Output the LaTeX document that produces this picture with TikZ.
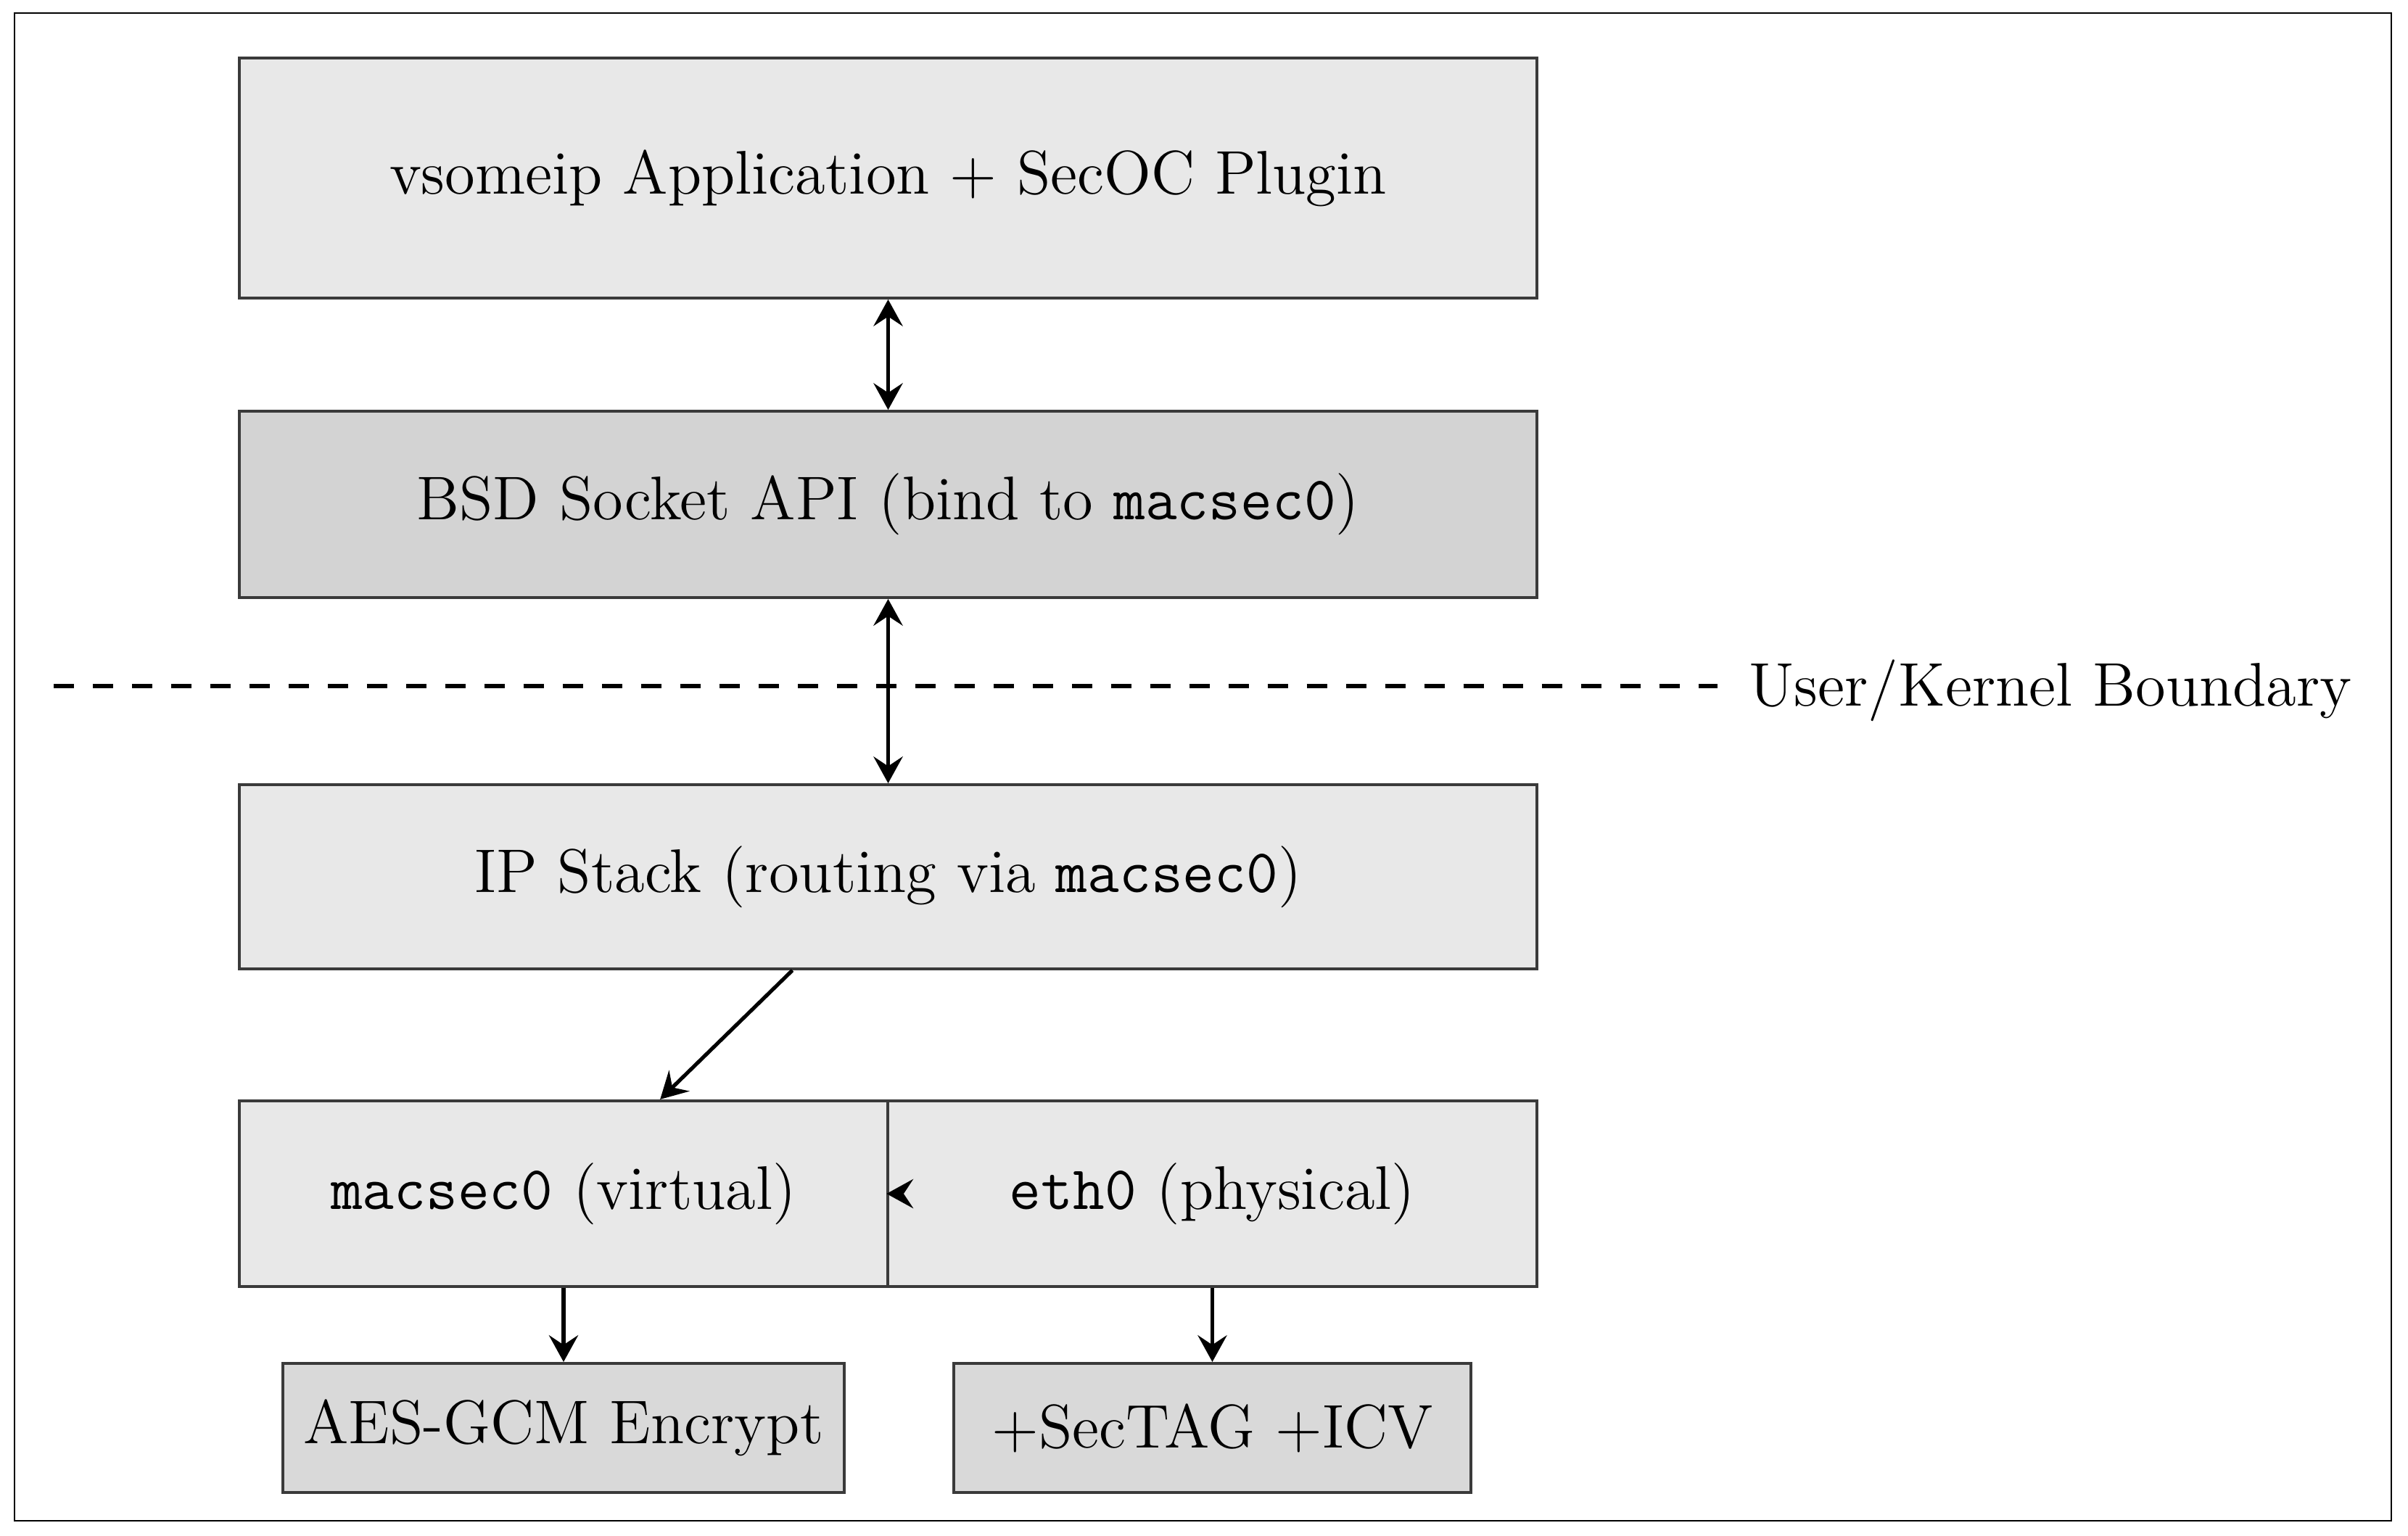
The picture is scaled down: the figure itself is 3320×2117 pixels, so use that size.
\documentclass[tikz,border=0pt]{standalone}
\usepackage{fontspec}
\usetikzlibrary{arrows.meta}
\definecolor{fillA}{HTML}{E8E8E8}
\definecolor{fillB}{HTML}{D3D3D3}
\definecolor{fillC}{HTML}{D9D9D9}
\definecolor{edge}{HTML}{3A3A3A}
\tikzset{
  box/.style={draw=edge, line width=0.7pt, rectangle, inner sep=0pt, align=center,
    font=\fontsize{14.8}{17.5}\selectfont},
  arr/.style={line width=0.9pt, -{Stealth[length=6.4pt,width=7pt,inset=2.3pt]}},
  darr/.style={line width=0.9pt, {Stealth[length=6.4pt,width=7pt,inset=2.3pt]}-{Stealth[length=6.4pt,width=7pt,inset=2.3pt]}},
}
\begin{document}
\begin{tikzpicture}[x=0.1741pt, y=-0.1741pt]
\useasboundingbox (0,0) rectangle (3320,2117);
\draw[line width=0.5pt] (20,18) rectangle (3297,2097);

\node[box, fill=fillA, minimum width=311.5pt, minimum height=57.6pt] (app) at (1224.5,245.5)
  {vsomeip Application + SecOC Plugin};
\node[box, fill=fillB, minimum width=311.5pt, minimum height=44.7pt] (bsd) at (1224.5,695.5)
  {BSD Socket API (bind to \texttt{macsec0})};
\node[box, fill=fillA, minimum width=311.5pt, minimum height=44.2pt] (ip) at (1224.5,1209)
  {IP Stack (routing via \texttt{macsec0})};
\node[box, fill=fillA, minimum width=155.7pt, minimum height=44.6pt] (mac) at (777,1646)
  {\texttt{macsec0} (virtual)};
\node[box, fill=fillA, minimum width=155.7pt, minimum height=44.6pt] (eth) at (1671.5,1646)
  {\texttt{eth0} (physical)};
\node[box, fill=fillC, minimum width=134.8pt, minimum height=31pt] (aes) at (777,1969)
  {AES-GCM Encrypt};
\node[box, fill=fillC, minimum width=124.1pt, minimum height=31pt] (tag) at (1671.5,1969)
  {+SecTAG +ICV};

\coordinate (bl) at (74,946);
\coordinate (br) at (2368,946);
\draw[line width=0.9pt, dash pattern=on 4.9pt off 4.5pt] (bl) -- (br);
\node[anchor=west, inner sep=0pt, font=\fontsize{14.8}{17.5}\selectfont] (lbl) at (2410,952) {User/Kernel Boundary};

\draw[darr] (app) -- (bsd);
\draw[darr] (bsd) -- (ip);
\draw[arr] (ip) -- (mac);
\draw[arr] ([xshift=1pt]eth.west) -- (eth.west);
\draw[arr] (mac) -- (aes);
\draw[arr] (eth) -- (tag);
\end{tikzpicture}
\end{document}
